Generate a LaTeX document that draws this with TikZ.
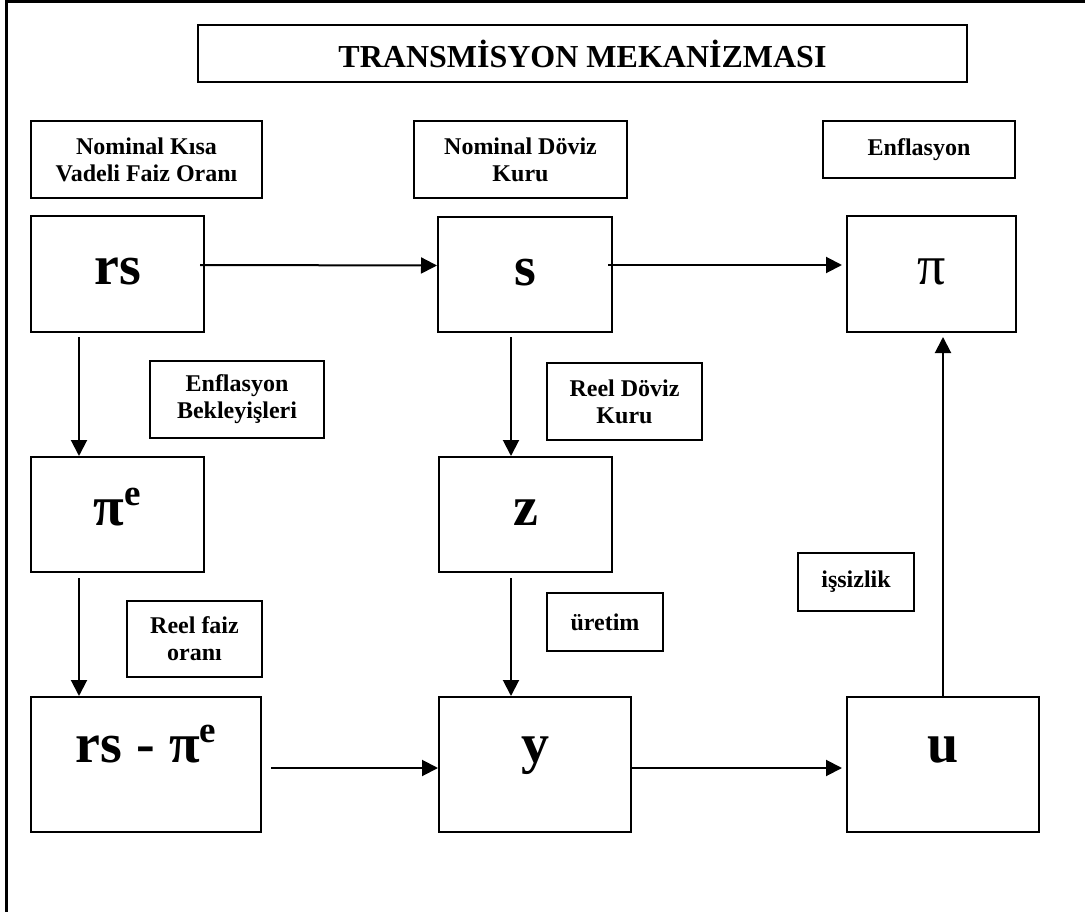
\documentclass[tikz,border=0pt]{standalone}
\usepackage{fontspec}
\setmainfont{Liberation Serif}
\usetikzlibrary{arrows.meta}
\begin{document}
\begin{tikzpicture}[x=1pt,y=-1pt,
  lbl/.style={draw,line width=2pt,inner sep=0pt,align=center,font=\fontsize{24}{27}\selectfont\bfseries},
  big/.style={draw,line width=2pt,inner sep=0pt,font=\fontsize{56}{60}\selectfont\bfseries},
  toprow/.style={text height=38pt,text depth=16pt},
  botrow/.style={text height=20pt,text depth=25pt},
  arr/.style={line width=2pt,-{Triangle[length=16pt,width=16pt]}},
  frame/.style={line width=3pt}]
\useasboundingbox (0,0) rectangle (1085,912);
% frame (top and left edges)
\coordinate (ftl) at (6.5,1.5);
\coordinate (ftr) at (1085,1.5);
\coordinate (fbl) at (6.5,912);
\draw[frame] (ftr) -- (ftl) -- (fbl);
% title
\node[lbl,minimum width=769pt,minimum height=57pt,font=\fontsize{32}{36}\selectfont\bfseries] (title) at (582.5,53.5) {TRANSMİSYON MEKANİZMASI};
% header labels
\node[lbl,minimum width=231pt,minimum height=77pt] (lab1) at (146.5,159.5) {Nominal Kısa\\Vadeli Faiz Oranı};
\node[lbl,minimum width=213pt,minimum height=77pt] (lab2) at (520.5,159.5) {Nominal Döviz\\Kuru};
\node[lbl,minimum width=192pt,minimum height=57pt] (lab3) at (919,149.5) {Enflasyon};
% top row
\node[big,toprow,minimum width=173pt,minimum height=116pt] (rs) at (117.5,274) {rs};
\node[big,toprow,minimum width=174pt,minimum height=115pt] (s) at (525,274.5) {s};
\node[big,toprow,minimum width=169pt,minimum height=116pt] (pi) at (931.5,274) {\mdseries π};
% mid labels
\node[lbl,minimum width=174pt,minimum height=77pt] (lab4) at (237,399.5) {Enflasyon\\Bekleyişleri};
\node[lbl,minimum width=155pt,minimum height=77pt] (lab5) at (624.5,401.5) {Reel Döviz\\Kuru};
% middle row
\node[big,toprow,minimum width=173pt,minimum height=115pt] (pie) at (117.5,514.5) {π\raisebox{20pt}{\fontsize{37}{40}\selectfont e}};
\node[big,toprow,minimum width=173pt,minimum height=115pt] (z) at (525.5,514.5) {z};
% lower labels
\node[lbl,minimum width=116pt,minimum height=58pt] (issiz) at (856,582) {işsizlik};
\node[lbl,minimum width=135pt,minimum height=76pt] (lab6) at (194.5,639) {Reel faiz\\oranı};
\node[lbl,minimum width=116pt,minimum height=58pt] (uretim) at (605,622) {üretim};
% bottom row
\node[big,botrow,minimum width=230pt,minimum height=135pt] (rspie) at (146,764.5) {rs - π\raisebox{20pt}{\fontsize{37}{40}\selectfont e}};
\node[big,botrow,minimum width=192pt,minimum height=135pt] (y) at (535,764.5) {y};
\node[big,botrow,minimum width=192pt,minimum height=135pt] (u) at (943,764.5) {u};
% arrows
\draw[arr] ([shift={(-5pt,9pt)}]rs.east) -- ([yshift=9pt]s.west);
\draw[arr,shorten >=4pt] ([shift={(-5pt,9.5pt)}]s.east) -- ([yshift=9pt]pi.west);
\draw[arr] ([shift={(-38.5pt,-4pt)}]rs.south) -- ([xshift=-38.5pt]pie.north);
\draw[arr] ([shift={(-14pt,-4pt)}]s.south) -- ([xshift=-14.5pt]z.north);
\draw[arr] ([shift={(-38.5pt,-5pt)}]pie.south) -- ([xshift=-67pt]rspie.north);
\draw[arr] ([shift={(-14.5pt,-5pt)}]z.south) -- ([xshift=-24pt]y.north);
\draw[arr] ([shift={(9pt,-3.5pt)}]rspie.east) -- ([yshift=-3.5pt]y.west);
\draw[arr,shorten >=4pt] ([yshift=-3.5pt]y.east) -- ([yshift=-3.5pt]u.west);
\draw[arr,shorten >=4pt] (u.north) -- ([xshift=11.5pt]pi.south);
\end{tikzpicture}
\end{document}
